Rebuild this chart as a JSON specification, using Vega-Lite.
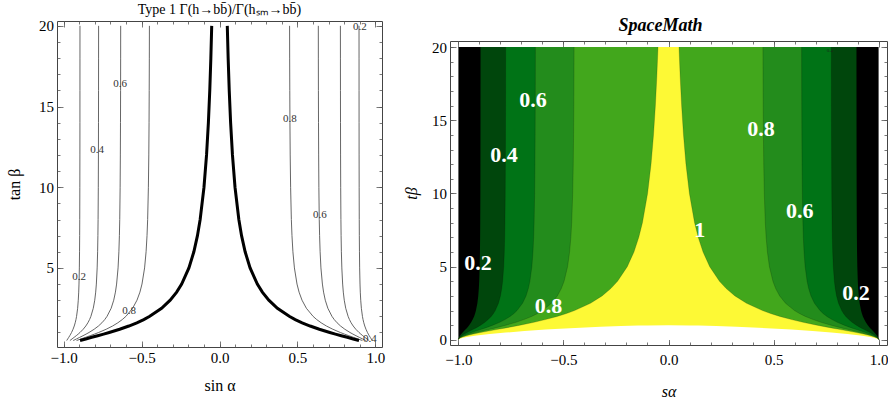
{
  "$schema": "https://vega.github.io/schema/vega-lite/v6.json",
  "padding": {"left": 6, "top": 2, "right": 0, "bottom": 0},
  "background": "white",
  "config": {
    "view": {"stroke": "#444", "strokeWidth": 1},
    "axis": {"grid": false, "domain": false, "labelFont": "Liberation Serif", "labelFontSize": 15, "labelColor": "#000", "titleFont": "Liberation Serif", "titleFontSize": 16, "titleFontWeight": "normal", "titleColor": "#000", "tickColor": "#555", "tickWidth": 0.8, "labelFlush": false, "labelOverlap": false, "labelBound": false}
  },
  "datasets": {
    "curves": [
      {"c":0,"t":0,"xl":-1,"xr":1},{"c":0,"t":20,"xl":-1,"xr":1},
      {"c":0.2,"t":0,"xl":-1,"xr":1},{"c":0.2,"t":0.05,"xl":-0.99975,"xr":0.99975},{"c":0.2,"t":0.1,"xl":-0.99901,"xr":0.99901},{"c":0.2,"t":0.15,"xl":-0.9978,"xr":0.9978},{"c":0.2,"t":0.2,"xl":-0.99615,"xr":0.99615},{"c":0.2,"t":0.3,"xl":-0.99171,"xr":0.99171},{"c":0.2,"t":0.4,"xl":-0.98611,"xr":0.98611},{"c":0.2,"t":0.5,"xl":-0.9798,"xr":0.9798},{"c":0.2,"t":0.6,"xl":-0.97317,"xr":0.97317},{"c":0.2,"t":0.7,"xl":-0.96655,"xr":0.96655},{"c":0.2,"t":0.8,"xl":-0.96018,"xr":0.96018},{"c":0.2,"t":0.9,"xl":-0.9542,"xr":0.9542},{"c":0.2,"t":1,"xl":-0.94868,"xr":0.94868},{"c":0.2,"t":1.2,"xl":-0.93913,"xr":0.93913},{"c":0.2,"t":1.4,"xl":-0.93143,"xr":0.93143},{"c":0.2,"t":1.6,"xl":-0.9253,"xr":0.9253},{"c":0.2,"t":1.8,"xl":-0.92042,"xr":0.92042},{"c":0.2,"t":2,"xl":-0.91652,"xr":0.91652},{"c":0.2,"t":2.5,"xl":-0.90971,"xr":0.90971},{"c":0.2,"t":3,"xl":-0.90554,"xr":0.90554},{"c":0.2,"t":3.5,"xl":-0.90282,"xr":0.90282},{"c":0.2,"t":4,"xl":-0.90098,"xr":0.90098},{"c":0.2,"t":5,"xl":-0.89872,"xr":0.89872},{"c":0.2,"t":6,"xl":-0.89744,"xr":0.89744},{"c":0.2,"t":7,"xl":-0.89666,"xr":0.89666},{"c":0.2,"t":8,"xl":-0.89614,"xr":0.89614},{"c":0.2,"t":10,"xl":-0.89553,"xr":0.89553},{"c":0.2,"t":12,"xl":-0.8952,"xr":0.8952},{"c":0.2,"t":14,"xl":-0.895,"xr":0.895},{"c":0.2,"t":16,"xl":-0.89486,"xr":0.89486},{"c":0.2,"t":18,"xl":-0.89477,"xr":0.89477},{"c":0.2,"t":20,"xl":-0.89471,"xr":0.89471},
      {"c":0.4,"t":0,"xl":-1,"xr":1},{"c":0.4,"t":0.05,"xl":-0.9995,"xr":0.9995},{"c":0.4,"t":0.1,"xl":-0.99802,"xr":0.99802},{"c":0.4,"t":0.15,"xl":-0.99559,"xr":0.99559},{"c":0.4,"t":0.2,"xl":-0.99228,"xr":0.99228},{"c":0.4,"t":0.3,"xl":-0.98335,"xr":0.98335},{"c":0.4,"t":0.4,"xl":-0.97202,"xr":0.97202},{"c":0.4,"t":0.5,"xl":-0.95917,"xr":0.95917},{"c":0.4,"t":0.6,"xl":-0.94558,"xr":0.94558},{"c":0.4,"t":0.7,"xl":-0.93191,"xr":0.93191},{"c":0.4,"t":0.8,"xl":-0.91864,"xr":0.91864},{"c":0.4,"t":0.9,"xl":-0.90609,"xr":0.90609},{"c":0.4,"t":1,"xl":-0.89443,"xr":0.89443},{"c":0.4,"t":1.2,"xl":-0.87403,"xr":0.87403},{"c":0.4,"t":1.4,"xl":-0.8574,"xr":0.8574},{"c":0.4,"t":1.6,"xl":-0.84401,"xr":0.84401},{"c":0.4,"t":1.8,"xl":-0.83327,"xr":0.83327},{"c":0.4,"t":2,"xl":-0.82462,"xr":0.82462},{"c":0.4,"t":2.5,"xl":-0.80943,"xr":0.80943},{"c":0.4,"t":3,"xl":-0.8,"xr":0.8},{"c":0.4,"t":3.5,"xl":-0.79385,"xr":0.79385},{"c":0.4,"t":4,"xl":-0.78964,"xr":0.78964},{"c":0.4,"t":5,"xl":-0.78446,"xr":0.78446},{"c":0.4,"t":6,"xl":-0.78154,"xr":0.78154},{"c":0.4,"t":7,"xl":-0.77974,"xr":0.77974},{"c":0.4,"t":8,"xl":-0.77856,"xr":0.77856},{"c":0.4,"t":10,"xl":-0.77715,"xr":0.77715},{"c":0.4,"t":12,"xl":-0.77638,"xr":0.77638},{"c":0.4,"t":14,"xl":-0.77591,"xr":0.77591},{"c":0.4,"t":16,"xl":-0.7756,"xr":0.7756},{"c":0.4,"t":18,"xl":-0.77539,"xr":0.77539},{"c":0.4,"t":20,"xl":-0.77524,"xr":0.77524},
      {"c":0.6,"t":0,"xl":-1,"xr":1},{"c":0.6,"t":0.05,"xl":-0.99925,"xr":0.99925},{"c":0.6,"t":0.1,"xl":-0.99702,"xr":0.99702},{"c":0.6,"t":0.15,"xl":-0.99338,"xr":0.99338},{"c":0.6,"t":0.2,"xl":-0.98839,"xr":0.98839},{"c":0.6,"t":0.3,"xl":-0.97491,"xr":0.97491},{"c":0.6,"t":0.4,"xl":-0.95773,"xr":0.95773},{"c":0.6,"t":0.5,"xl":-0.93808,"xr":0.93808},{"c":0.6,"t":0.6,"xl":-0.91716,"xr":0.91716},{"c":0.6,"t":0.7,"xl":-0.89593,"xr":0.89593},{"c":0.6,"t":0.8,"xl":-0.87513,"xr":0.87513},{"c":0.6,"t":0.9,"xl":-0.85527,"xr":0.85527},{"c":0.6,"t":1,"xl":-0.83666,"xr":0.83666},{"c":0.6,"t":1.2,"xl":-0.80368,"xr":0.80368},{"c":0.6,"t":1.4,"xl":-0.77634,"xr":0.77634},{"c":0.6,"t":1.6,"xl":-0.75402,"xr":0.75402},{"c":0.6,"t":1.8,"xl":-0.73587,"xr":0.73587},{"c":0.6,"t":2,"xl":-0.72111,"xr":0.72111},{"c":0.6,"t":2.5,"xl":-0.69481,"xr":0.69481},{"c":0.6,"t":3,"xl":-0.67823,"xr":0.67823},{"c":0.6,"t":3.5,"xl":-0.66729,"xr":0.66729},{"c":0.6,"t":4,"xl":-0.65977,"xr":0.65977},{"c":0.6,"t":5,"xl":-0.65044,"xr":0.65044},{"c":0.6,"t":6,"xl":-0.64515,"xr":0.64515},{"c":0.6,"t":7,"xl":-0.64187,"xr":0.64187},{"c":0.6,"t":8,"xl":-0.63971,"xr":0.63971},{"c":0.6,"t":10,"xl":-0.63714,"xr":0.63714},{"c":0.6,"t":12,"xl":-0.63572,"xr":0.63572},{"c":0.6,"t":14,"xl":-0.63486,"xr":0.63486},{"c":0.6,"t":16,"xl":-0.6343,"xr":0.6343},{"c":0.6,"t":18,"xl":-0.63391,"xr":0.63391},{"c":0.6,"t":20,"xl":-0.63364,"xr":0.63364},
      {"c":0.8,"t":0,"xl":-1,"xr":1},{"c":0.8,"t":0.05,"xl":-0.999,"xr":0.999},{"c":0.8,"t":0.1,"xl":-0.99603,"xr":0.99603},{"c":0.8,"t":0.15,"xl":-0.99116,"xr":0.99116},{"c":0.8,"t":0.2,"xl":-0.9845,"xr":0.9845},{"c":0.8,"t":0.3,"xl":-0.96641,"xr":0.96641},{"c":0.8,"t":0.4,"xl":-0.94322,"xr":0.94322},{"c":0.8,"t":0.5,"xl":-0.91652,"xr":0.91652},{"c":0.8,"t":0.6,"xl":-0.88783,"xr":0.88783},{"c":0.8,"t":0.7,"xl":-0.85844,"xr":0.85844},{"c":0.8,"t":0.8,"xl":-0.82934,"xr":0.82934},{"c":0.8,"t":0.9,"xl":-0.80124,"xr":0.80124},{"c":0.8,"t":1,"xl":-0.7746,"xr":0.7746},{"c":0.8,"t":1.2,"xl":-0.72655,"xr":0.72655},{"c":0.8,"t":1.4,"xl":-0.68577,"xr":0.68577},{"c":0.8,"t":1.6,"xl":-0.6517,"xr":0.6517},{"c":0.8,"t":1.8,"xl":-0.62344,"xr":0.62344},{"c":0.8,"t":2,"xl":-0.6,"xr":0.6},{"c":0.8,"t":2.5,"xl":-0.55709,"xr":0.55709},{"c":0.8,"t":3,"xl":-0.52915,"xr":0.52915},{"c":0.8,"t":3.5,"xl":-0.51027,"xr":0.51027},{"c":0.8,"t":4,"xl":-0.49705,"xr":0.49705},{"c":0.8,"t":5,"xl":-0.48038,"xr":0.48038},{"c":0.8,"t":6,"xl":-0.47077,"xr":0.47077},{"c":0.8,"t":7,"xl":-0.46476,"xr":0.46476},{"c":0.8,"t":8,"xl":-0.46077,"xr":0.46077},{"c":0.8,"t":10,"xl":-0.45598,"xr":0.45598},{"c":0.8,"t":12,"xl":-0.45334,"xr":0.45334},{"c":0.8,"t":14,"xl":-0.45173,"xr":0.45173},{"c":0.8,"t":16,"xl":-0.45068,"xr":0.45068},{"c":0.8,"t":18,"xl":-0.44996,"xr":0.44996},{"c":0.8,"t":20,"xl":-0.44944,"xr":0.44944},
      {"c":1,"t":0,"xl":-1,"xr":1},{"c":1,"t":0.05,"xl":-0.99875,"xr":0.99875},{"c":1,"t":0.1,"xl":-0.99504,"xr":0.99504},{"c":1,"t":0.15,"xl":-0.98894,"xr":0.98894},{"c":1,"t":0.2,"xl":-0.98058,"xr":0.98058},{"c":1,"t":0.3,"xl":-0.95783,"xr":0.95783},{"c":1,"t":0.4,"xl":-0.92848,"xr":0.92848},{"c":1,"t":0.5,"xl":-0.89443,"xr":0.89443},{"c":1,"t":0.6,"xl":-0.85749,"xr":0.85749},{"c":1,"t":0.7,"xl":-0.81923,"xr":0.81923},{"c":1,"t":0.8,"xl":-0.78087,"xr":0.78087},{"c":1,"t":0.9,"xl":-0.74329,"xr":0.74329},{"c":1,"t":1,"xl":-0.70711,"xr":0.70711},{"c":1,"t":1.2,"xl":-0.64018,"xr":0.64018},{"c":1,"t":1.4,"xl":-0.58124,"xr":0.58124},{"c":1,"t":1.6,"xl":-0.53,"xr":0.53},{"c":1,"t":1.8,"xl":-0.48564,"xr":0.48564},{"c":1,"t":2,"xl":-0.44721,"xr":0.44721},{"c":1,"t":2.5,"xl":-0.37139,"xr":0.37139},{"c":1,"t":3,"xl":-0.31623,"xr":0.31623},{"c":1,"t":3.5,"xl":-0.27472,"xr":0.27472},{"c":1,"t":4,"xl":-0.24254,"xr":0.24254},{"c":1,"t":5,"xl":-0.19612,"xr":0.19612},{"c":1,"t":6,"xl":-0.1644,"xr":0.1644},{"c":1,"t":7,"xl":-0.14142,"xr":0.14142},{"c":1,"t":8,"xl":-0.12403,"xr":0.12403},{"c":1,"t":10,"xl":-0.0995,"xr":0.0995},{"c":1,"t":12,"xl":-0.08305,"xr":0.08305},{"c":1,"t":14,"xl":-0.07125,"xr":0.07125},{"c":1,"t":16,"xl":-0.06238,"xr":0.06238},{"c":1,"t":18,"xl":-0.05547,"xr":0.05547},{"c":1,"t":20,"xl":-0.04994,"xr":0.04994},
      {"c":2,"t":0,"xl":-1,"xr":1},{"c":2,"t":0.05,"xl":-0.9975,"xr":0.9975},{"c":2,"t":0.1,"xl":-0.99005,"xr":0.99005},{"c":2,"t":0.15,"xl":-0.97775,"xr":0.97775},{"c":2,"t":0.2,"xl":-0.96077,"xr":0.96077},{"c":2,"t":0.3,"xl":-0.91371,"xr":0.91371},{"c":2,"t":0.4,"xl":-0.85097,"xr":0.85097},{"c":2,"t":0.5,"xl":-0.7746,"xr":0.7746},{"c":2,"t":0.6,"xl":-0.68599,"xr":0.68599},{"c":2,"t":0.7,"xl":-0.58505,"xr":0.58505},{"c":2,"t":0.8,"xl":-0.46852,"xr":0.46852},{"c":2,"t":0.9,"xl":-0.32399,"xr":0.32399},{"c":2,"t":0.95,"xl":-0.22638,"xr":0.22638},{"c":2,"t":0.98,"xl":-0.14213,"xr":0.14213},{"c":2,"t":0.99,"xl":-0.10025,"xr":0.10025},{"c":2,"t":1,"xl":0,"xr":0}
    ]
  },
  "spacing": 17,
  "hconcat": [
    {
      "width": 325,
      "height": 326,
      "title": {"text": "Type 1 Γ(h→bb̄)/Γ(hₛₘ→bb̄)", "font": "Liberation Serif", "fontSize": 14, "fontWeight": "normal", "offset": 2, "color": "#000"},
      "resolve": {"scale": {"x": "independent", "y": "independent"}, "axis": {"x": "independent", "y": "independent"}},
      "layer": [
        {
          "data": {"name": "curves"},
          "transform": [{"filter": "datum.t >= 0.5 && datum.c > 0 && datum.c <= 1"}],
          "layer": [
            {
              "transform": [{"filter": "datum.c < 1"}],
              "mark": {"type": "line", "color": "#555", "strokeWidth": 0.9},
              "encoding": {
                "x": {"field": "xl", "type": "quantitative", "scale": {"domain": [-1.042, 1.042], "nice": false, "zero": false}, "axis": null},
                "y": {"field": "t", "type": "quantitative", "scale": {"domain": [0.1, 20.3], "nice": false, "zero": false}, "axis": null},
                "detail": {"field": "c", "type": "nominal"},
                "order": {"field": "t", "type": "quantitative"}
              }
            },
            {
              "transform": [{"filter": "datum.c < 1"}],
              "mark": {"type": "line", "color": "#555", "strokeWidth": 0.9},
              "encoding": {
                "x": {"field": "xr", "type": "quantitative", "scale": {"domain": [-1.042, 1.042], "nice": false, "zero": false}, "axis": null},
                "y": {"field": "t", "type": "quantitative", "scale": {"domain": [0.1, 20.3], "nice": false, "zero": false}, "axis": null},
                "detail": {"field": "c", "type": "nominal"},
                "order": {"field": "t", "type": "quantitative"}
              }
            },
            {
              "transform": [{"filter": "datum.c == 1"}],
              "mark": {"type": "line", "color": "#000", "strokeWidth": 3},
              "encoding": {
                "x": {"field": "xl", "type": "quantitative", "scale": {"domain": [-1.042, 1.042], "nice": false, "zero": false}, "axis": null},
                "y": {"field": "t", "type": "quantitative", "scale": {"domain": [0.1, 20.3], "nice": false, "zero": false}, "axis": null},
                "order": {"field": "t", "type": "quantitative"}
              }
            },
            {
              "transform": [{"filter": "datum.c == 1"}],
              "mark": {"type": "line", "color": "#000", "strokeWidth": 3},
              "encoding": {
                "x": {"field": "xr", "type": "quantitative", "scale": {"domain": [-1.042, 1.042], "nice": false, "zero": false}, "axis": null},
                "y": {"field": "t", "type": "quantitative", "scale": {"domain": [0.1, 20.3], "nice": false, "zero": false}, "axis": null},
                "order": {"field": "t", "type": "quantitative"}
              }
            },
            {
              "data": {"values": [
                {"l": "0.6", "x": -0.638, "y": 16.4},
                {"l": "0.4", "x": -0.785, "y": 12.3},
                {"l": "0.2", "x": -0.9, "y": 4.44},
                {"l": "0.8", "x": -0.58, "y": 2.35},
                {"l": "0.8", "x": 0.452, "y": 14.2},
                {"l": "0.6", "x": 0.644, "y": 8.27},
                {"l": "0.2", "x": 0.9, "y": 19.9},
                {"l": "0.4", "x": 0.965, "y": 0.59}
              ]},
              "mark": {"type": "text", "font": "Liberation Serif", "fontSize": 11, "color": "#333", "align": "center", "baseline": "middle"},
              "encoding": {
                "x": {"field": "x", "type": "quantitative", "scale": {"domain": [-1.042, 1.042], "nice": false, "zero": false}, "axis": null},
                "y": {"field": "y", "type": "quantitative", "scale": {"domain": [0.1, 20.3], "nice": false, "zero": false}, "axis": null},
                "text": {"field": "l"}
              }
            }
          ]
        },
        {
          "data": {"values": [{"a": 0, "b": 10}]},
          "mark": {"type": "point", "opacity": 0},
          "encoding": {
            "x": {"field": "a", "type": "quantitative", "scale": {"domain": [-1.042, 1.042], "nice": false, "zero": false}, "axis": {"orient": "bottom", "values": [-1, -0.5, 0, 0.5, 1], "format": ".1f", "tickSize": -6, "labelPadding": 9.8, "title": "sin α", "titlePadding": 12}},
            "y": {"field": "b", "type": "quantitative", "scale": {"domain": [0.1, 20.3], "nice": false, "zero": false}, "axis": {"orient": "left", "values": [5, 10, 15, 20], "tickSize": -6, "labelPadding": 9.4, "title": "tan β", "titlePadding": 16}}
          }
        },
        {
          "data": {"values": [{"a": 0, "b": 10}]},
          "mark": {"type": "point", "opacity": 0},
          "encoding": {
            "x": {"field": "a", "type": "quantitative", "scale": {"domain": [-1.042, 1.042], "nice": false, "zero": false}, "axis": {"orient": "top", "values": [-1, -0.5, 0, 0.5, 1], "tickSize": -6, "labels": false, "title": null}},
            "y": {"field": "b", "type": "quantitative", "scale": {"domain": [0.1, 20.3], "nice": false, "zero": false}, "axis": {"orient": "right", "values": [5, 10, 15, 20], "tickSize": -6, "labels": false, "title": null}}
          }
        },
        {
          "data": {"values": [{"a": 0, "b": 10}]},
          "mark": {"type": "point", "opacity": 0},
          "encoding": {
            "x": {"field": "a", "type": "quantitative", "scale": {"domain": [-1.042, 1.042], "nice": false, "zero": false}, "axis": {"orient": "bottom", "values": [-1, -0.9, -0.8, -0.7, -0.6, -0.5, -0.4, -0.3, -0.2, -0.1, 0, 0.1, 0.2, 0.3, 0.4, 0.5, 0.6, 0.7, 0.8, 0.9, 1], "tickSize": -3, "labels": false, "title": null}},
            "y": {"field": "b", "type": "quantitative", "scale": {"domain": [0.1, 20.3], "nice": false, "zero": false}, "axis": {"orient": "left", "values": [1, 2, 3, 4, 5, 6, 7, 8, 9, 10, 11, 12, 13, 14, 15, 16, 17, 18, 19, 20], "tickSize": -3, "labels": false, "title": null}}
          }
        },
        {
          "data": {"values": [{"a": 0, "b": 10}]},
          "mark": {"type": "point", "opacity": 0},
          "encoding": {
            "x": {"field": "a", "type": "quantitative", "scale": {"domain": [-1.042, 1.042], "nice": false, "zero": false}, "axis": {"orient": "top", "values": [-1, -0.9, -0.8, -0.7, -0.6, -0.5, -0.4, -0.3, -0.2, -0.1, 0, 0.1, 0.2, 0.3, 0.4, 0.5, 0.6, 0.7, 0.8, 0.9, 1], "tickSize": -3, "labels": false, "title": null}},
            "y": {"field": "b", "type": "quantitative", "scale": {"domain": [0.1, 20.3], "nice": false, "zero": false}, "axis": {"orient": "right", "values": [1, 2, 3, 4, 5, 6, 7, 8, 9, 10, 11, 12, 13, 14, 15, 16, 17, 18, 19, 20], "tickSize": -3, "labels": false, "title": null}}
          }
        }
      ]
    },
    {
      "spacing": -11,
      "vconcat": [
        {
          "width": 437,
          "height": 1,
          "view": {"stroke": null},
          "data": {"values": [{"a": 1}]},
          "mark": {"type": "text", "text": ""}
        },
        {
          "width": 437,
          "height": 304,
          "title": {"text": "SpaceMath", "font": "Liberation Serif", "fontSize": 18, "fontStyle": "italic", "fontWeight": "bold", "offset": 5, "dx": -8, "color": "#000"},
          "resolve": {"scale": {"x": "independent", "y": "independent"}, "axis": {"x": "independent", "y": "independent"}},
          "layer": [
            {
              "data": {"name": "curves"},
              "encoding": {
                "y": {"field": "t", "type": "quantitative", "scale": {"domain": [-0.35, 20.41], "nice": false, "zero": false}, "axis": null}
              },
              "layer": [
                {"transform": [{"filter": "datum.c == 0"}], "mark": {"type": "area", "orient": "horizontal", "color": "#000000"}, "encoding": {"x": {"field": "xl", "type": "quantitative", "scale": {"domain": [-1.04, 1.04], "nice": false, "zero": false}, "axis": null}, "x2": {"field": "xr"}}},
                {"transform": [{"filter": "datum.c == 0.2"}], "mark": {"type": "area", "orient": "horizontal", "color": "#00460c"}, "encoding": {"x": {"field": "xl", "type": "quantitative", "scale": {"domain": [-1.04, 1.04], "nice": false, "zero": false}, "axis": null}, "x2": {"field": "xr"}}},
                {"transform": [{"filter": "datum.c == 0.4"}], "mark": {"type": "area", "orient": "horizontal", "color": "#007316"}, "encoding": {"x": {"field": "xl", "type": "quantitative", "scale": {"domain": [-1.04, 1.04], "nice": false, "zero": false}, "axis": null}, "x2": {"field": "xr"}}},
                {"transform": [{"filter": "datum.c == 0.6"}], "mark": {"type": "area", "orient": "horizontal", "color": "#238c1c"}, "encoding": {"x": {"field": "xl", "type": "quantitative", "scale": {"domain": [-1.04, 1.04], "nice": false, "zero": false}, "axis": null}, "x2": {"field": "xr"}}},
                {"transform": [{"filter": "datum.c == 0.8"}], "mark": {"type": "area", "orient": "horizontal", "color": "#42a71c"}, "encoding": {"x": {"field": "xl", "type": "quantitative", "scale": {"domain": [-1.04, 1.04], "nice": false, "zero": false}, "axis": null}, "x2": {"field": "xr"}}},
                {"transform": [{"filter": "datum.c == 1"}], "mark": {"type": "area", "orient": "horizontal", "color": "#fdf935"}, "encoding": {"x": {"field": "xl", "type": "quantitative", "scale": {"domain": [-1.04, 1.04], "nice": false, "zero": false}, "axis": null}, "x2": {"field": "xr"}}},
                {"transform": [{"filter": "datum.c > 0.3 && datum.c <= 1"}], "mark": {"type": "line", "color": "#000", "opacity": 0.25, "strokeWidth": 0.7}, "encoding": {"x": {"field": "xl", "type": "quantitative", "scale": {"domain": [-1.04, 1.04], "nice": false, "zero": false}, "axis": null}, "detail": {"field": "c", "type": "nominal"}, "order": {"field": "t", "type": "quantitative"}}},
                {"transform": [{"filter": "datum.c > 0.3 && datum.c <= 1"}], "mark": {"type": "line", "color": "#000", "opacity": 0.25, "strokeWidth": 0.7}, "encoding": {"x": {"field": "xr", "type": "quantitative", "scale": {"domain": [-1.04, 1.04], "nice": false, "zero": false}, "axis": null}, "detail": {"field": "c", "type": "nominal"}, "order": {"field": "t", "type": "quantitative"}}},
                {"transform": [{"filter": "datum.c == 2"}], "mark": {"type": "area", "orient": "horizontal", "color": "#ffffff"}, "encoding": {"x": {"field": "xl", "type": "quantitative", "scale": {"domain": [-1.04, 1.04], "nice": false, "zero": false}, "axis": null}, "x2": {"field": "xr"}}},
                {
                  "data": {"values": [
                    {"l": "0.6", "x": -0.645, "y": 16.36},
                    {"l": "0.4", "x": -0.783, "y": 12.63},
                    {"l": "0.8", "x": 0.44, "y": 14.42},
                    {"l": "0.6", "x": 0.625, "y": 8.81},
                    {"l": "1", "x": 0.149, "y": 7.5},
                    {"l": "0.2", "x": -0.907, "y": 5.22},
                    {"l": "0.8", "x": -0.571, "y": 2.32},
                    {"l": "0.2", "x": 0.892, "y": 3.18}
                  ]},
                  "mark": {"type": "text", "font": "Liberation Serif", "fontSize": 22, "fontWeight": "bold", "color": "#ffffff", "align": "center", "baseline": "middle"},
                  "encoding": {
                    "x": {"field": "x", "type": "quantitative", "scale": {"domain": [-1.04, 1.04], "nice": false, "zero": false}, "axis": null},
                    "y": {"field": "y", "type": "quantitative", "scale": {"domain": [-0.35, 20.41], "nice": false, "zero": false}, "axis": null},
                    "text": {"field": "l"}
                  }
                },
                {
                  "data": {"values": [{"l": "0.4", "x": 0.768, "y": 19.8}]},
                  "mark": {"type": "text", "font": "Liberation Serif", "fontSize": 5, "color": "#1a2a1a", "align": "center", "baseline": "middle"},
                  "encoding": {
                    "x": {"field": "x", "type": "quantitative", "scale": {"domain": [-1.04, 1.04], "nice": false, "zero": false}, "axis": null},
                    "y": {"field": "y", "type": "quantitative", "scale": {"domain": [-0.35, 20.41], "nice": false, "zero": false}, "axis": null},
                    "text": {"field": "l"}
                  }
                }
              ]
            },
            {
              "data": {"values": [{"a": 0, "b": 10}]},
              "mark": {"type": "point", "opacity": 0},
              "encoding": {
                "x": {"field": "a", "type": "quantitative", "scale": {"domain": [-1.04, 1.04], "nice": false, "zero": false}, "axis": {"orient": "bottom", "values": [-1, -0.5, 0, 0.5, 1], "format": ".1f", "tickSize": -6, "labelPadding": 13.8, "title": "sα", "titleFontStyle": "italic", "titlePadding": 16}},
                "y": {"field": "b", "type": "quantitative", "scale": {"domain": [-0.35, 20.41], "nice": false, "zero": false}, "axis": {"orient": "left", "values": [0, 5, 10, 15, 20], "tickSize": -6, "labelPadding": 9.4, "title": "tβ", "titleFontStyle": "italic", "titlePadding": 12}}
              }
            },
            {
              "data": {"values": [{"a": 0, "b": 10}]},
              "mark": {"type": "point", "opacity": 0},
              "encoding": {
                "x": {"field": "a", "type": "quantitative", "scale": {"domain": [-1.04, 1.04], "nice": false, "zero": false}, "axis": {"orient": "top", "values": [-1, -0.5, 0, 0.5, 1], "tickSize": -6, "labels": false, "title": null}},
                "y": {"field": "b", "type": "quantitative", "scale": {"domain": [-0.35, 20.41], "nice": false, "zero": false}, "axis": {"orient": "right", "values": [0, 5, 10, 15, 20], "tickSize": -6, "labels": false, "title": null}}
              }
            },
            {
              "data": {"values": [{"a": 0, "b": 10}]},
              "mark": {"type": "point", "opacity": 0},
              "encoding": {
                "x": {"field": "a", "type": "quantitative", "scale": {"domain": [-1.04, 1.04], "nice": false, "zero": false}, "axis": {"orient": "bottom", "values": [-1, -0.9, -0.8, -0.7, -0.6, -0.5, -0.4, -0.3, -0.2, -0.1, 0, 0.1, 0.2, 0.3, 0.4, 0.5, 0.6, 0.7, 0.8, 0.9, 1], "tickSize": -3, "labels": false, "title": null}},
                "y": {"field": "b", "type": "quantitative", "scale": {"domain": [-0.35, 20.41], "nice": false, "zero": false}, "axis": {"orient": "left", "values": [0, 1, 2, 3, 4, 5, 6, 7, 8, 9, 10, 11, 12, 13, 14, 15, 16, 17, 18, 19, 20], "tickSize": -3, "labels": false, "title": null}}
              }
            },
            {
              "data": {"values": [{"a": 0, "b": 10}]},
              "mark": {"type": "point", "opacity": 0},
              "encoding": {
                "x": {"field": "a", "type": "quantitative", "scale": {"domain": [-1.04, 1.04], "nice": false, "zero": false}, "axis": {"orient": "top", "values": [-1, -0.9, -0.8, -0.7, -0.6, -0.5, -0.4, -0.3, -0.2, -0.1, 0, 0.1, 0.2, 0.3, 0.4, 0.5, 0.6, 0.7, 0.8, 0.9, 1], "tickSize": -3, "labels": false, "title": null}},
                "y": {"field": "b", "type": "quantitative", "scale": {"domain": [-0.35, 20.41], "nice": false, "zero": false}, "axis": {"orient": "right", "values": [0, 1, 2, 3, 4, 5, 6, 7, 8, 9, 10, 11, 12, 13, 14, 15, 16, 17, 18, 19, 20], "tickSize": -3, "labels": false, "title": null}}
              }
            }
          ]
        }
      ]
    }
  ]
}
